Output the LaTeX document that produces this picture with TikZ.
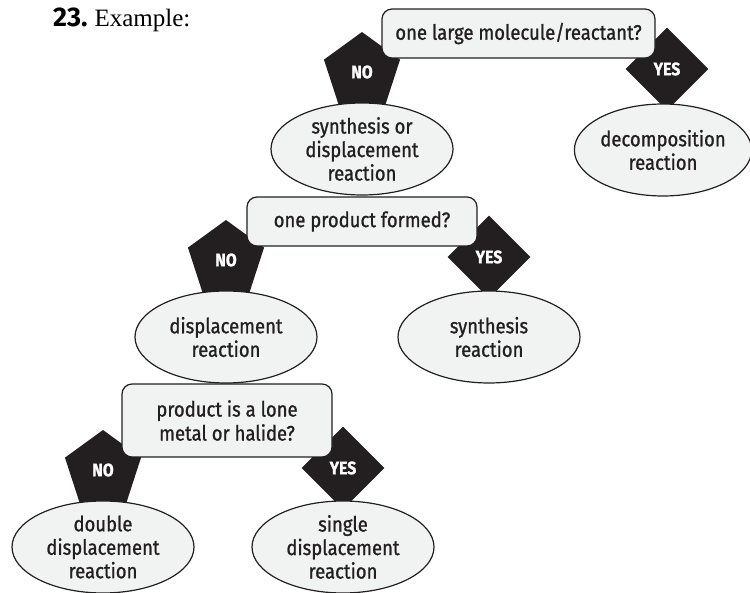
\documentclass[tikz,border=0pt]{standalone}
\usepackage{fontspec}
\setmainfont{Liberation Serif}
\newfontfamily\figfont[FakeStretch=0.88,FakeBold=1]{Fira Sans}
\newfontfamily\numfont{Fira Sans}
\usetikzlibrary{positioning,shapes.geometric}

\definecolor{boxgray}{HTML}{F1F3F2}
\definecolor{inkblack}{HTML}{231F20}

\tikzset{
  question/.style={draw=inkblack,line width=1.2pt,fill=boxgray,rounded corners=10pt,
    inner sep=0pt,align=center,font=\figfont\fontsize{21}{24}\selectfont,text=inkblack},
  outcome/.style={ellipse,draw=inkblack,line width=1.2pt,fill=boxgray,minimum width=182pt,
    minimum height=92pt,inner sep=0pt,align=center,font=\figfont\fontsize{21}{23.5}\selectfont,text=inkblack},
  nobadge/.style={regular polygon,regular polygon sides=5,minimum size=80pt,inner sep=0pt,
    fill=inkblack,text=white,font=\figfont\bfseries\fontsize{18}{20}\selectfont},
  yesbadge/.style={diamond,minimum width=83pt,minimum height=83pt,inner sep=0pt,
    fill=inkblack,text=white,font=\figfont\bfseries\fontsize{18}{20}\selectfont}
}

\begin{document}
\begin{tikzpicture}[x=1pt,y=-1pt]
  \useasboundingbox (0,0) rectangle (750,593);
  % title
  \node[anchor=base west,inner sep=0pt] (title) at (53,27)
    {{\numfont\bfseries\fontsize{27}{29}\selectfont 23.}\hspace{7pt}{\fontsize{25}{27}\selectfont Example:}};
  % badges (behind the boxes)
  \node[nobadge] (no1) at (362,72) {NO};
  \node[yesbadge] (yes1) at (667,69) {YES};
  \node[nobadge] (no2) at (226,260) {NO};
  \node[yesbadge] (yes2) at (489,257) {YES};
  \node[nobadge] (no3) at (103,470) {NO};
  \node[yesbadge] (yes3) at (343,468) {YES};
  % questions
  \node[question,minimum width=273pt,minimum height=49pt] (q1) at (518.5,33.5) {one large molecule/reactant?};
  \node[question,minimum width=230pt,minimum height=49pt] (q2) at (362,221.5) {one product formed?};
  \node[question,minimum width=210pt,minimum height=73pt] (q3) at (227,420.5) {product is a lone\\metal or halide?};
  % outcomes
  \node[outcome] (synordisp) at (362,149) {synthesis or\\displacement\\reaction};
  \node[outcome,minimum width=172pt] (decomp) at (663,150) {decomposition\\reaction};
  \node[outcome] (disp) at (226,337) {displacement\\reaction};
  \node[outcome] (synth) at (489,337) {synthesis\\reaction};
  \node[outcome] (double) at (103,547) {double\\displacement\\reaction};
  \node[outcome] (single) at (343,547) {single\\displacement\\reaction};
\end{tikzpicture}
\end{document}
